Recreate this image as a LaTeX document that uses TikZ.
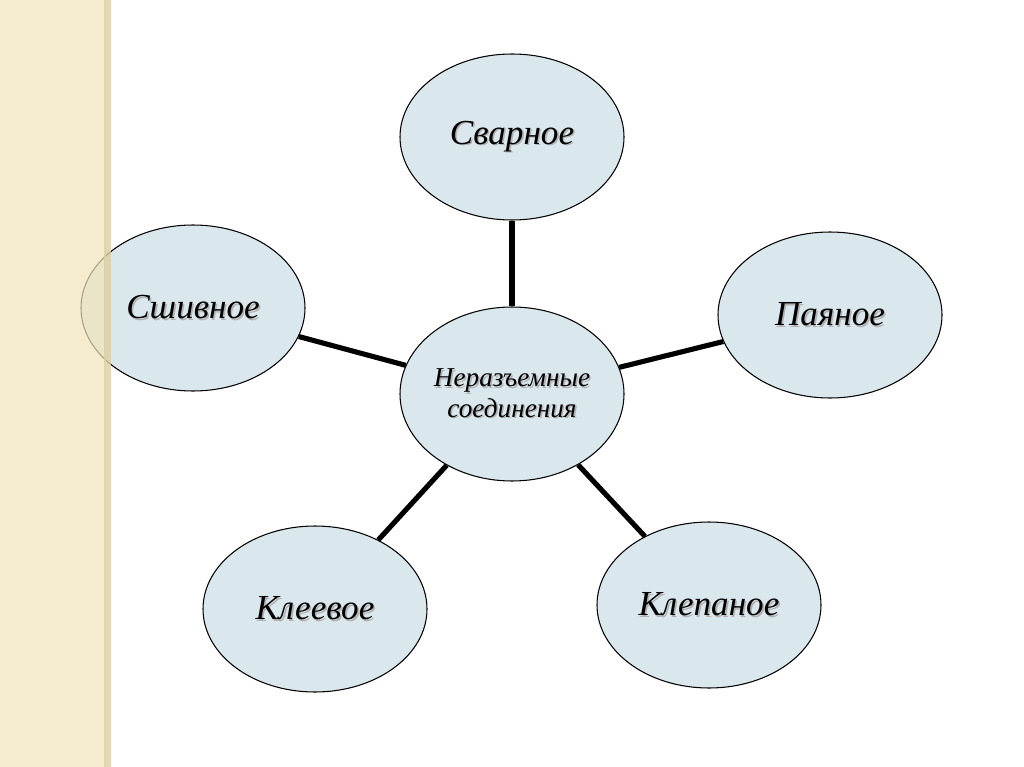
\documentclass[tikz,border=0pt]{standalone}
\usepackage{fontspec}
\setmainfont{Liberation Serif}
\newcommand\shd[1]{\makebox[0pt][l]{\hspace{0.9pt}\raisebox{-0.9pt}{\color{black!30}#1}}#1}
\begin{document}
\begin{tikzpicture}[x=0.02cm,y=-0.02cm,
  bubble/.style={ellipse, draw=black, line width=0.6pt, fill=bubblefill,
     minimum width=224*0.02cm, minimum height=166*0.02cm, inner sep=0pt,
     font=\itshape\fontsize{20}{24}\selectfont},
  link/.style={line width=2.9pt, black}]
\usetikzlibrary{shapes.geometric}
\definecolor{bubblefill}{RGB}{218,232,238}
\definecolor{strip}{RGB}{242,228,186}
\definecolor{stripedge}{RGB}{222,206,160}
\useasboundingbox (0,0) rectangle (1024,767);
\fill[white] (0,0) rectangle (1024,767);
\node[bubble] (top) at (512,137) {\shd{Сварное}};
\node[bubble] (right) at (830,315) {\shd{Паяное}};
\node[bubble] (left) at (193,308) {\shd{Сшивное}};
\node[bubble] (bl) at (315,609) {\shd{Клеевое}};
\node[bubble] (br) at (709,605) {\shd{Клепаное}};
\node[bubble, minimum height=174*0.02cm, align=center,
  font=\itshape\fontsize{15.5}{17.5}\selectfont] (c) at (512,394) {\shd{Неразъемные}\\\shd{соединения}};
\draw[link] (c) -- (top);
\draw[link] (c) -- (right);
\draw[link] (c) -- (left);
\draw[link] (c) -- (bl);
\draw[link] (c) -- (br);
\fill[strip, opacity=0.7] (0,0) rectangle (106,767);
\fill[stripedge, opacity=0.8] (104,0) rectangle (111,767);
\end{tikzpicture}
\end{document}
